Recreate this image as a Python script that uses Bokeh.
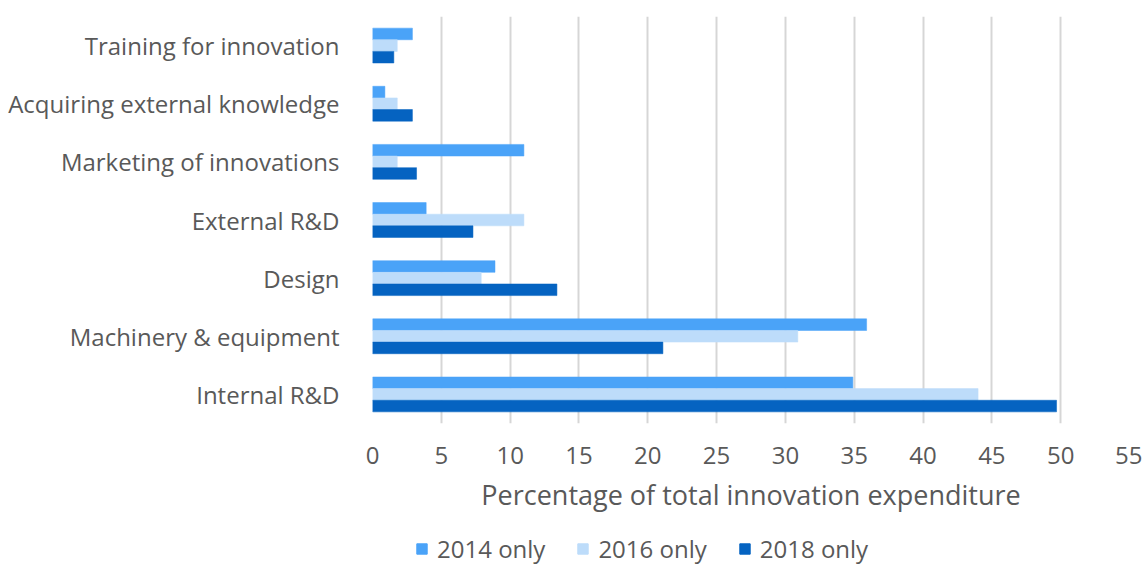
from bokeh.plotting import figure
from bokeh.layouts import column
from bokeh.models import ColumnDataSource, Legend, LegendItem, FactorRange, Range1d, FixedTicker
from bokeh.transform import dodge
from bokeh.embed import file_html
from bokeh.resources import INLINE

categories = ["Internal R&D", "Machinery & equipment", "Design", "External R&D",
              "Marketing of innovations", "Acquiring external knowledge", "Training for innovation"]
v2014 = [34.9, 35.9, 8.9, 3.9, 11.0, 0.9, 2.9]
v2016 = [44.0, 30.9, 7.9, 11.0, 1.8, 1.8, 1.8]
v2018 = [49.7, 21.1, 13.4, 7.3, 3.2, 2.9, 1.55]
series_names = ["2014 only", "2016 only", "2018 only"]
x_ticks = [0, 5, 10, 15, 20, 25, 30, 35, 40, 45, 50, 55]

FONT = "Open Sans"
TXT = "#595959"
colors = ["#4aa3f8", "#bddcfa", "#0563c1"]

src = ColumnDataSource(dict(cat=categories, v2014=v2014, v2016=v2016, v2018=v2018))

p = figure(frame_width=757, frame_height=407, y_range=FactorRange(*categories), x_range=Range1d(0, 55),
           output_backend="svg", toolbar_location=None,
           min_border_left=372, min_border_right=13, min_border_top=16, min_border_bottom=107)
p.outline_line_color = None
p.background_fill_color = "white"
p.border_fill_color = "white"

bars = []
for key, off, col in [("v2014", 0.2, colors[0]), ("v2016", 0.0, colors[1]), ("v2018", -0.2, colors[2])]:
    bars.append(p.hbar(y=dodge("cat", off, range=p.y_range), left=0, right=key, height=0.2,
                       source=src, fill_color=col, line_color=col, line_width=0.5))

p.xaxis.ticker = FixedTicker(ticks=x_ticks)
p.xaxis.axis_label = "Percentage of total innovation expenditure"
p.xaxis.axis_label_text_font = FONT
p.xaxis.axis_label_text_font_size = "27px"
p.xaxis.axis_label_text_font_style = "normal"
p.xaxis.axis_label_text_color = TXT
p.xaxis.axis_label_standoff = 9
p.xaxis.major_label_text_font = FONT
p.xaxis.major_label_text_font_size = "24px"
p.xaxis.major_label_text_color = TXT
p.xaxis.major_label_standoff = 17
p.xaxis.axis_line_color = None
p.xaxis.major_tick_line_color = None
p.xaxis.minor_tick_line_color = None

p.yaxis.major_label_text_font = FONT
p.yaxis.major_label_text_font_size = "24px"
p.yaxis.major_label_text_color = TXT
p.yaxis.major_label_standoff = 27
p.yaxis.axis_line_color = None
p.yaxis.major_tick_line_color = None
p.yaxis.minor_tick_line_color = None

p.ygrid.grid_line_color = None
p.xgrid.grid_line_color = "#d6d6d6"
p.xgrid.grid_line_width = 2

# legend strip below the chart (hidden stand-in renderers, only for legend swatches)
lg = figure(width=1142, height=35, output_backend="svg", toolbar_location=None,
            x_range=Range1d(0, 1), y_range=Range1d(0, 1),
            x_axis_location=None, y_axis_location=None,
            min_border=0, min_border_left=0, min_border_right=0, min_border_top=0, min_border_bottom=0)
lg.outline_line_color = None
lg.grid.grid_line_color = None
stand_in = ColumnDataSource(dict(y=[-10], right=[0]))
dummies = [lg.hbar(y="y", left=0, right="right", height=0.1, source=stand_in,
                   fill_color=c, line_color=c) for c in colors]
legend = Legend(items=[LegendItem(label=n, renderers=[r]) for n, r in zip(series_names, dummies)],
                orientation="horizontal", location=(43, 0),
                label_text_font=FONT, label_text_font_size="24px", label_text_color=TXT,
                glyph_width=13, glyph_height=13, label_standoff=9, spacing=31,
                border_line_color=None, background_fill_alpha=0, margin=0, padding=0)
lg.add_layout(legend, "center")

layout = column(p, lg, spacing=0)
open("out.html", "w").write(file_html(layout, INLINE))
